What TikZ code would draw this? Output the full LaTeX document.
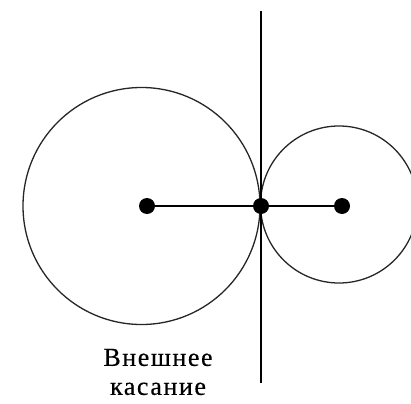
\documentclass[tikz,border=0pt]{standalone}
\usepackage{fontspec}
\newfontfamily\labelfont[LetterSpace=6,FakeBold=0.4]{Liberation Serif}
\begin{document}
\begin{tikzpicture}[x=1pt,y=-1pt,
  circ/.style={draw=black!85, line width=1.3pt},
  dotnode/.style={circle, fill=black, inner sep=0pt, minimum size=16pt},
  lbl/.style={font=\labelfont\fontsize{26}{29}\selectfont, align=center, inner sep=0pt}]
\useasboundingbox (0,0) rectangle (411,403);
\clip (0,0) rectangle (411,403);
\draw[circ] (141.5,206) circle (118.5);
\draw[circ] (339,204.5) circle (78.5);
\coordinate (top) at (261,11);
\coordinate (bot) at (261,383);
\draw[line width=2pt] (top) -- (bot);
\node[dotnode] (c1) at (147,206) {};
\node[dotnode] (t) at (261,206) {};
\node[dotnode] (c2) at (342,206) {};
\draw[line width=2pt] (c1) -- (t) -- (c2);
\node[lbl] (txt) at (158,372) {Внешнее\\касание};
\end{tikzpicture}
\end{document}
